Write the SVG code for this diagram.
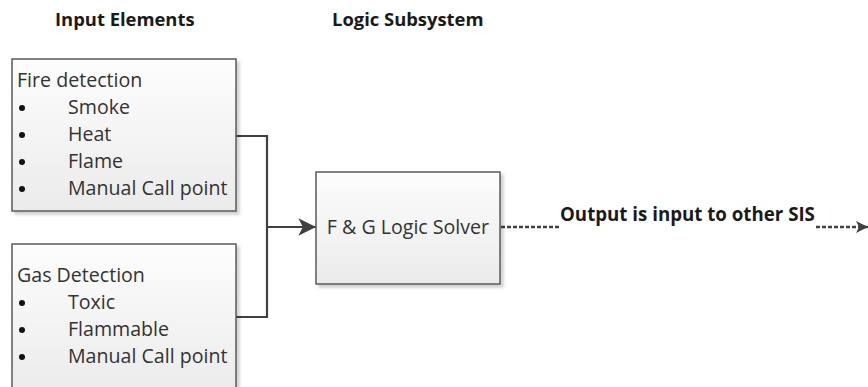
<svg xmlns="http://www.w3.org/2000/svg" width="868" height="387" viewBox="0 0 868 387">
  <defs>
    <linearGradient id="boxFill" x1="0" y1="0" x2="0" y2="1">
      <stop offset="0" stop-color="#fdfdfd"/>
      <stop offset="1" stop-color="#ebebeb"/>
    </linearGradient>
    <filter id="shadow" x="-10%" y="-10%" width="125%" height="125%">
      <feDropShadow dx="3" dy="3" stdDeviation="1.5" flood-color="#000" flood-opacity="0.18"/>
    </filter>
    <marker id="arrowSolid" viewBox="0 0 10 10" refX="10" refY="5" markerWidth="8.5" markerHeight="8" markerUnits="strokeWidth" orient="auto">
      <path d="M0,0 L10,5 L0,10 L2.5,5 Z" fill="#404040"/>
    </marker>
    <marker id="arrowDash" viewBox="0 0 10 10" refX="10" refY="5" markerWidth="5" markerHeight="6" markerUnits="strokeWidth" orient="auto">
      <path d="M0,0 L10,5 L0,10 L2.5,5 Z" fill="#404040"/>
    </marker>
  </defs>
  <style>
    .box { fill: url(#boxFill); stroke: #5a5a5a; stroke-width: 1.5; filter: url(#shadow); }
    .txt { font-family: "Open Sans", "Noto Sans", "DejaVu Sans", sans-serif; font-size: 19.6px; fill: #333333; }
    .title { font-family: "Open Sans", "Noto Sans", "DejaVu Sans", sans-serif; font-size: 18.4px; font-weight: bold; fill: #1a1a1a; }
    .lbl { font-family: "Open Sans", "Noto Sans", "DejaVu Sans", sans-serif; font-size: 18.7px; font-weight: bold; fill: #1a1a1a; }
    .bullet { fill: #111; }
    .conn { fill: none; stroke: #404040; stroke-width: 2.2; }
    .dash { fill: none; stroke: #404040; stroke-width: 2.4; stroke-dasharray: 4 2; }
  </style>

  <rect width="868" height="387" fill="#ffffff"/>

  <g id="titles">
    <text class="title" x="55" y="26">Input Elements</text>
    <text class="title" x="332" y="26">Logic Subsystem</text>
  </g>

  <g id="connectors">
    <polyline class="conn" points="236,136 267,136 267,317 236,317"/>
    <line class="conn" x1="267" y1="227" x2="316" y2="227" marker-end="url(#arrowSolid)"/>
    <line class="dash" x1="501" y1="227" x2="561" y2="227"/>
    <line class="dash" x1="816" y1="227" x2="868" y2="227" marker-end="url(#arrowDash)"/>
    <text class="lbl" x="560" y="221">Output is input to other SIS</text>
  </g>

  <g id="fire-detection">
    <rect class="box" x="12" y="59" width="224" height="152"/>
    <text class="txt" x="17" y="87">Fire detection</text>
    <circle class="bullet" cx="22" cy="108" r="3"/>
    <text class="txt" x="68" y="114">Smoke</text>
    <circle class="bullet" cx="22" cy="135" r="3"/>
    <text class="txt" x="68" y="141">Heat</text>
    <circle class="bullet" cx="22" cy="162" r="3"/>
    <text class="txt" x="68" y="168">Flame</text>
    <circle class="bullet" cx="22" cy="189" r="3"/>
    <text class="txt" x="68" y="195">Manual Call point</text>
  </g>

  <g id="gas-detection">
    <rect class="box" x="12" y="244" width="224" height="150"/>
    <text class="txt" x="17" y="282">Gas Detection</text>
    <circle class="bullet" cx="22" cy="303" r="3"/>
    <text class="txt" x="68" y="309">Toxic</text>
    <circle class="bullet" cx="22" cy="330" r="3"/>
    <text class="txt" x="68" y="336">Flammable</text>
    <circle class="bullet" cx="22" cy="357" r="3"/>
    <text class="txt" x="68" y="363">Manual Call point</text>
  </g>

  <g id="logic-solver">
    <rect class="box" x="316" y="172" width="184" height="112"/>
    <text class="txt" x="408" y="234" text-anchor="middle">F &amp; G Logic Solver</text>
  </g>
</svg>
